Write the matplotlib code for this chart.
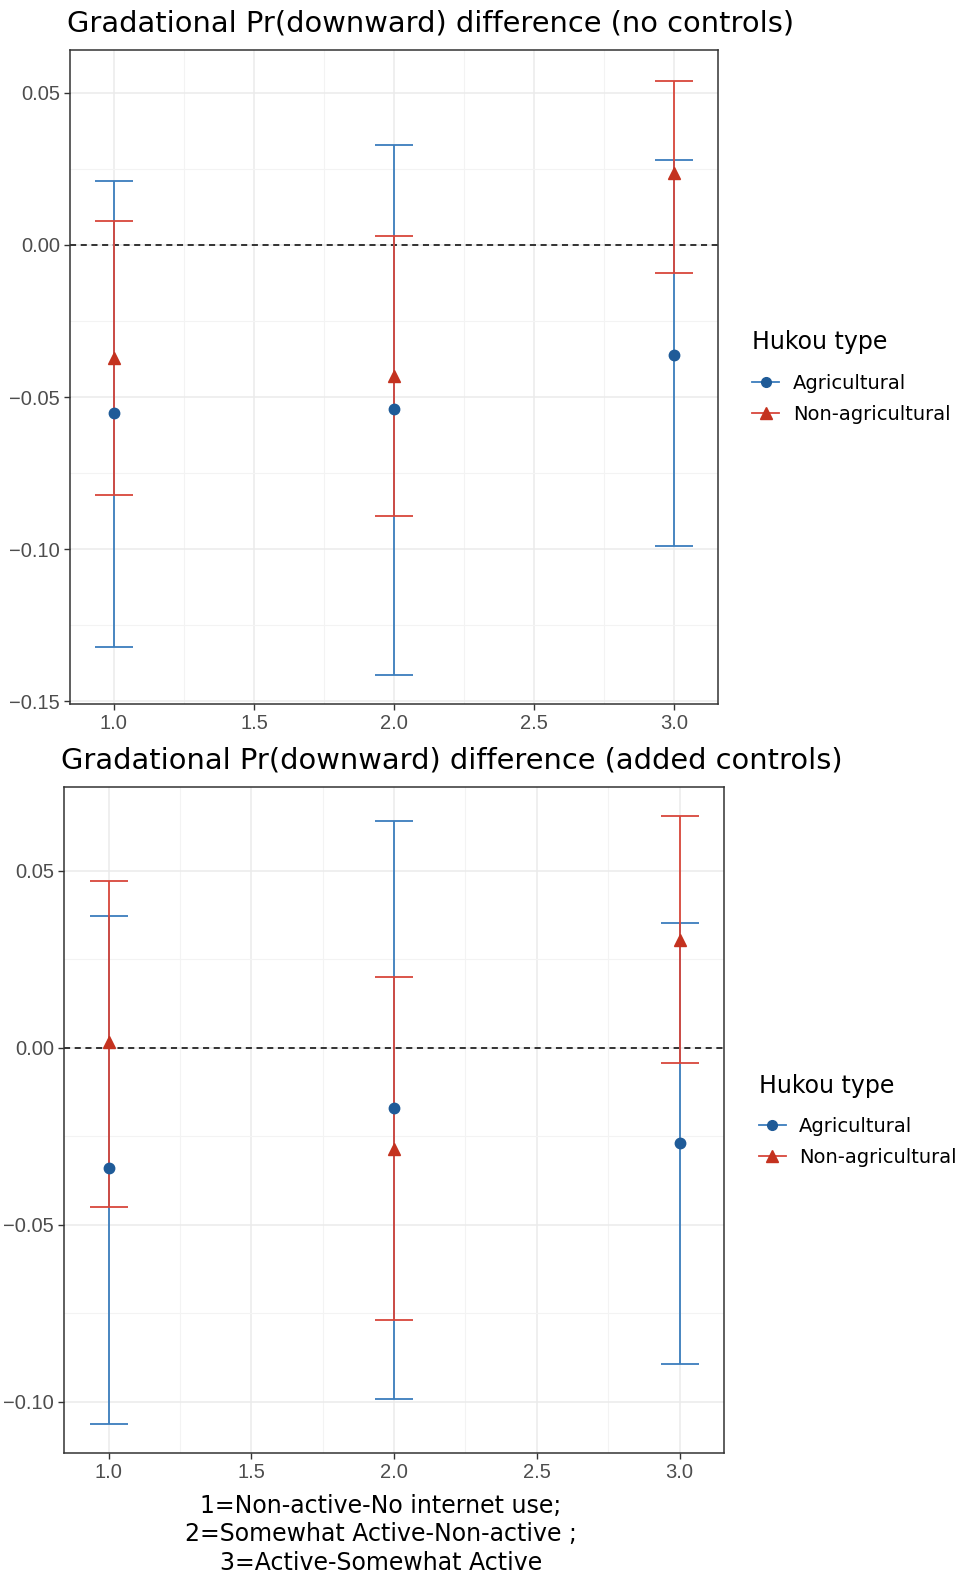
import numpy as np
import matplotlib
matplotlib.use("Agg")
import matplotlib.pyplot as plt
from matplotlib.lines import Line2D
from matplotlib.ticker import MultipleLocator

# Data
x = np.array([1.0, 2.0, 3.0])

# panel 1: no controls
agri1 = np.array([-0.0552, -0.0540, -0.0363])
agri1_lo = np.array([-0.1320, -0.1413, -0.0991])
agri1_hi = np.array([0.0211, 0.0329, 0.0278])
nonagri1 = np.array([-0.0370, -0.0430, 0.0237])
nonagri1_lo = np.array([-0.0823, -0.0890, -0.0092])
nonagri1_hi = np.array([0.0080, 0.0029, 0.0540])

# panel 2: added controls
agri2 = np.array([-0.0340, -0.0170, -0.0270])
agri2_lo = np.array([-0.1063, -0.0993, -0.0893])
agri2_hi = np.array([0.0371, 0.0641, 0.0352])
nonagri2 = np.array([0.0015, -0.0285, 0.0303])
nonagri2_lo = np.array([-0.0451, -0.0770, -0.0042])
nonagri2_hi = np.array([0.0470, 0.0200, 0.0653])

titles = ["Gradational Pr(downward) difference (no controls)",
          "Gradational Pr(downward) difference (added controls)"]
legend_title = "Hukou type"
series_names = ["Agricultural", "Non-agricultural"]
xlabel = "1=Non-active-No internet use;\n2=Somewhat Active-Non-active ;\n3=Active-Somewhat Active"

blue_line = "#3b7dbd"
blue_pt = "#1f5b98"
red_line = "#d8473b"
red_pt = "#c4321f"
tick_font = "Liberation Sans"
text_font = "DejaVu Sans"

fig = plt.figure(figsize=(9.59, 15.76), dpi=100)
ax1 = fig.add_axes([0.0734, 0.5536, 0.675, 0.4144])
ax2 = fig.add_axes([0.0670, 0.0780, 0.6877, 0.4226])


def draw_panel(ax, a, alo, ahi, n, nlo, nhi, ylim, title, title_pad):
    ax.set_facecolor("white")
    ax.xaxis.set_major_locator(MultipleLocator(0.5))
    ax.xaxis.set_minor_locator(MultipleLocator(0.25))
    ax.yaxis.set_major_locator(MultipleLocator(0.05))
    ax.yaxis.set_minor_locator(MultipleLocator(0.025))
    ax.grid(which="major", color="#ebebeb", linewidth=1.1, zorder=0)
    ax.grid(which="minor", color="#f3f3f3", linewidth=0.8, zorder=0)
    ax.set_axisbelow(True)

    ax.axhline(0, color="black", linestyle=(0, (4, 3)), linewidth=1.1, zorder=2)

    ax.errorbar(x, a, yerr=[a - alo, ahi - a], fmt="none", ecolor=blue_line,
                elinewidth=1.3, capsize=14, capthick=1.3, zorder=3)
    ax.errorbar(x, n, yerr=[n - nlo, nhi - n], fmt="none", ecolor=red_line,
                elinewidth=1.3, capsize=14, capthick=1.3, zorder=3)
    ax.plot(x, a, "o", color=blue_pt, markersize=7.5, linestyle="none", zorder=4)
    ax.plot(x, n, "^", color=red_pt, markersize=9, linestyle="none", zorder=4)

    ax.set_xlim(0.845, 3.155)
    ax.set_ylim(*ylim)
    ax.set_xticks([1.0, 1.5, 2.0, 2.5, 3.0])
    ax.set_xticklabels(["1.0", "1.5", "2.0", "2.5", "3.0"])
    ax.tick_params(axis="both", which="major", labelsize=14.5, labelcolor="#4d4d4d",
                   color="#333333", length=4, width=1)
    ax.tick_params(axis="both", which="minor", length=0)
    for lab in ax.get_xticklabels() + ax.get_yticklabels():
        lab.set_fontfamily(tick_font)
    for sp in ax.spines.values():
        sp.set_color("#333333")
        sp.set_linewidth(1.1)
    ax.set_title(title, loc="left", fontsize=20.8, fontfamily=text_font,
                 pad=title_pad, x=-0.005)

    handles = [
        Line2D([0], [0], color=blue_line, marker="o", markerfacecolor=blue_pt,
               markeredgecolor=blue_pt, markersize=7, linewidth=1.3),
        Line2D([0], [0], color=red_line, marker="^", markerfacecolor=red_pt,
               markeredgecolor=red_pt, markersize=9, linewidth=1.3),
    ]
    leg = ax.legend(handles, series_names, title=legend_title, loc="center left",
                    bbox_to_anchor=(1.035, 0.5), frameon=False,
                    title_fontsize=17, handlelength=1.4, handletextpad=0.7,
                    labelspacing=0.6, borderaxespad=0.2,
                    prop={"family": text_font, "size": 14})
    leg.get_title().set_fontfamily(text_font)
    leg._legend_box.align = "left"
    leg._legend_box.sep = 14


draw_panel(ax1, agri1, agri1_lo, agri1_hi, nonagri1, nonagri1_lo, nonagri1_hi,
           (-0.1507, 0.0639), titles[0], 13.5)
draw_panel(ax2, agri2, agri2_lo, agri2_hi, nonagri2, nonagri2_lo, nonagri2_hi,
           (-0.1145, 0.0736), titles[1], 13.5)

fig.text(0.397, 0.0522, xlabel, ha="center", va="top", fontsize=17,
         fontfamily=text_font, linespacing=1.25)

fig.savefig("out.png", dpi=100)
